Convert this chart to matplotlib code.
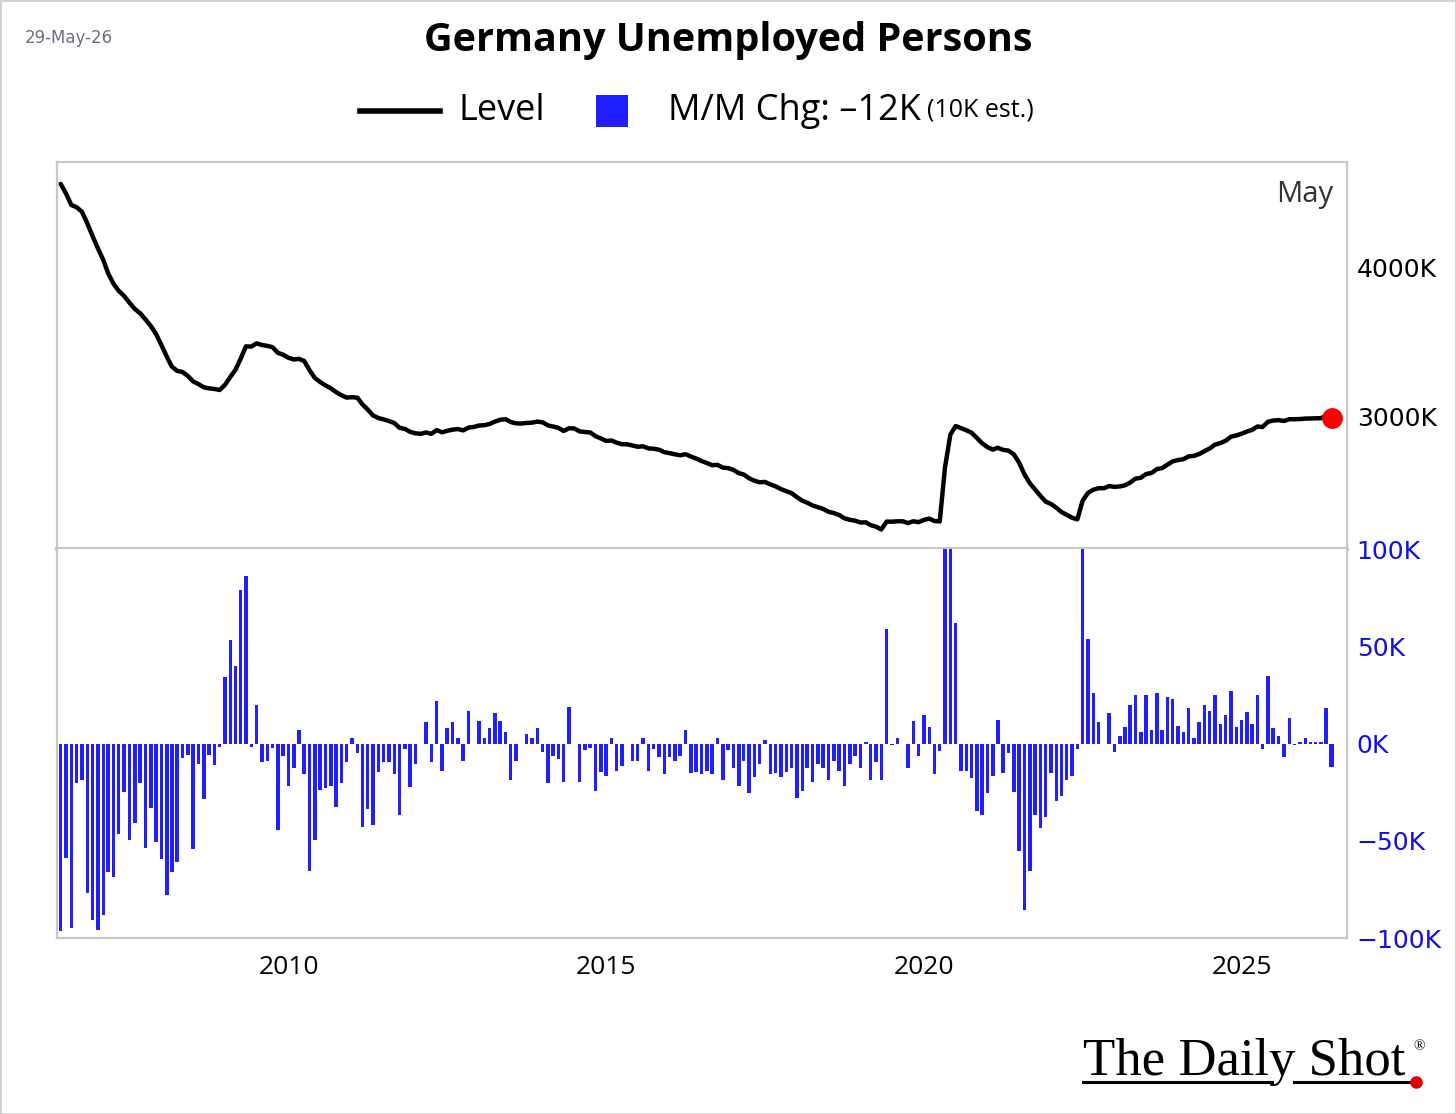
import matplotlib
matplotlib.use("Agg")
import matplotlib.pyplot as plt
from matplotlib import font_manager
from matplotlib.lines import Line2D
from matplotlib.patches import Rectangle
import pandas as pd

# Germany unemployed persons, monthly, May 2006 .. May 2026 (thousands)
first_month = "2006-05-01"

level = [
    4564, 4501, 4423, 4407, 4378, 4300, 4215, 4132, 4054, 3964, 3893, 3846,
    3812, 3767, 3725, 3696, 3655, 3611, 3557, 3483, 3405, 3338, 3309, 3302,
    3275, 3239, 3221, 3199, 3192, 3188, 3181, 3216, 3270, 3315, 3392, 3474,
    3472, 3494, 3483, 3477, 3468, 3430, 3418, 3397, 3386, 3390, 3376, 3315,
    3262, 3235, 3212, 3192, 3167, 3146, 3130, 3133, 3129, 3085, 3050, 3011,
    2993, 2984, 2973, 2959, 2927, 2920, 2900, 2890, 2887, 2896, 2887, 2912,
    2897, 2907, 2915, 2919, 2910, 2929, 2933, 2943, 2945, 2953, 2969, 2981,
    2985, 2966, 2957, 2956, 2960, 2962, 2969, 2964, 2943, 2936, 2927, 2906,
    2924, 2923, 2903, 2899, 2896, 2871, 2856, 2839, 2842, 2828, 2817, 2817,
    2808, 2800, 2803, 2789, 2787, 2780, 2764, 2757, 2749, 2743, 2750, 2735,
    2721, 2705, 2691, 2676, 2679, 2660, 2657, 2645, 2623, 2614, 2589, 2572,
    2562, 2564, 2548, 2534, 2516, 2502, 2489, 2462, 2438, 2425, 2406, 2395,
    2383, 2364, 2355, 2342, 2320, 2310, 2304, 2292, 2293, 2274, 2264, 2245,
    2298, 2297, 2300, 2300, 2288, 2300, 2294, 2309, 2318, 2302, 2299, 2659,
    2881, 2939, 2925, 2911, 2894, 2859, 2823, 2797, 2781, 2793, 2779, 2774,
    2749, 2694, 2615, 2555, 2513, 2470, 2432, 2416, 2390, 2363, 2343, 2324,
    2313, 2438, 2490, 2512, 2522, 2522, 2536, 2531, 2534, 2541, 2560, 2586,
    2592, 2617, 2624, 2650, 2657, 2680, 2702, 2711, 2717, 2735, 2739, 2751,
    2771, 2789, 2815, 2825, 2841, 2868, 2876, 2888, 2903, 2913, 2936, 2933,
    2968, 2976, 2979, 2973, 2985, 2985, 2986, 2989, 2990, 2991, 2992, 3008,
    2996,
]

mm_change = [
    -96.5, -59, -95, -20, -18.6, -76.7, -90.5, -95.7, -88.4, -65.9, -68.6, -46.6,
    -24.7, -49.7, -40.5, -20.3, -53.4, -32.8, -50.5, -59.5, -77.6, -65.9, -60.7, -7.4,
    -5.7, -54.3, -10.3, -28.4, -5.5, -10.7, -1.4, 34.5, 53.4, 40.2, 79.3, 86.5,
    -1.4, 20.1, -9.5, -8.6, -2, -44.5, -6.2, -21.7, -12.4, 7.2, -15.5, -65.5,
    -49.7, -23.6, -22.6, -21.5, -32.4, -20.3, -9.5, 3.1, -4.5, -42.6, -33.6, -41.7,
    -14.5, -9.5, -9.5, -15.5, -36.6, -2.4, -22.4, -10.3, 0, 11.2, -9.5, 22.3,
    -13.8, 8.2, 11.2, 3.1, -8.6, 17.2, 0, 12, 3, 8.2, 16, 12,
    6, -18.6, -8.6, 0, 5.2, 3, 8.2, -4.3, -20.3, -6.2, -7.7, -19.6,
    19.2, 0, -19.6, -2.9, -2, -24.1, -14.5, -16.7, 3, -13.8, -11.6, 0,
    -8.6, -8.6, 3, -13.8, -2.4, -6.9, -15.5, -6.9, -8.6, -6.4, 7.2, -14.7,
    -14.5, -15.5, -13.8, -15.5, 3, -18.6, -3.1, -12.4, -21.5, -8.6, -25.5, -17.2,
    -10.3, 2, -15.5, -14.7, -17.2, -14.5, -12.4, -27.6, -24.1, -12.4, -19.6, -10.3,
    -12.4, -18.6, -8.6, -13.8, -21.5, -10.3, -6, -12.4, 1, -18.6, -9.5, -18.6,
    59.3, -0.7, 3, 0, -12.4, 12, -6.2, 15.1, 8.9, -15.5, -3.4, 360,
    222, 62.2, -13.8, -13.8, -17.5, -34.7, -36.4, -25.5, -16.7, 12.4, -14.7, -4.8,
    -24.6, -55.3, -85.4, -65.6, -36.4, -43.3, -37.5, -14.7, -29.6, -26.6, -18.6, -16.7,
    -2.6, 130, 54.1, 26.1, 11.2, 0, 16, -4.3, 4, 8.9, 20, 25.3,
    6, 25.3, 7.4, 26.1, 7.4, 24, 23.2, 9.1, 6, 18.4, 3.1, 11.2,
    20.3, 17.2, 25.3, 10.3, 15.1, 27.1, 8.9, 12.4, 16.3, 10.3, 25.3, -2.6,
    35.2, 8.2, 4.3, -6.5, 13.4, -0.5, 1, 3.1, 1, 1, 1, 18.4,
    -12,
]

estimate = 10
as_of = "29-May-26"
last_label = "May"
title = "Germany Unemployed Persons"
level_ticks = [3000, 4000]
chg_ticks = [-100, -50, 0, 50, 100]
year_ticks = [2010, 2015, 2020, 2025]

W, H = 1456, 1114
installed = {f.name for f in font_manager.fontManager.ttflist}
narrow = "Liberation Sans Narrow" if "Liberation Sans Narrow" in installed else "Open Sans"

dates = pd.date_range(first_month, periods=len(level), freq="MS") + pd.offsets.MonthEnd(0)

fig = plt.figure(figsize=(W / 100, H / 100), dpi=100)
ax1 = fig.add_axes([57 / W, 1 - 549 / H, 1290 / W, 387 / H])
ax2 = fig.add_axes([57 / W, 1 - 938 / H, 1290 / W, 389 / H], sharex=ax1)

grey = "#c8c8c8"
blue = "#2020ff"

# level line
ax1.plot(dates, level, color="black", lw=3.2, solid_joinstyle="round", solid_capstyle="round")
ax1.plot(dates[-1:], level[-1:], "o", color="#ff0000", ms=14, zorder=5, clip_on=False)
ax1.set_ylim(2114, 4711)
ax1.set_yticks(level_ticks)
ax1.set_yticklabels([f"{v}K" for v in level_ticks])
ax1.text(0.989, 0.915, last_label, transform=ax1.transAxes, ha="right", va="center",
         fontsize=21, color="#333333", family=narrow)

# monthly change bars
widths = [20] * (len(mm_change) - 1) + [30]
ax2.bar(dates, mm_change, width=widths, color=blue, linewidth=0)
ax2.set_ylim(-100, 100.5)
ax2.set_yticks(chg_ticks)
ax2.set_yticklabels([f"{v}K".replace("-", "\u2212") for v in chg_ticks])

ax1.set_xlim(pd.Timestamp("2006-05-10"), pd.Timestamp("2026-08-28"))
ax2.set_xticks([pd.Timestamp(f"{y}-01-01") for y in year_ticks])
ax2.set_xticklabels([str(y) for y in year_ticks])

for ax in (ax1, ax2):
    ax.yaxis.tick_right()
    ax.tick_params(axis="y", length=0, pad=7, labelsize=18)
    for s in ax.spines.values():
        s.set_color(grey)
        s.set_linewidth(1.6)
ax1.spines["bottom"].set_linewidth(3)
ax2.spines["top"].set_visible(False)
ax1.tick_params(axis="x", length=0, labelbottom=False)
ax2.tick_params(axis="x", length=0, pad=12, labelsize=19)
for lab in ax2.get_xticklabels():
    lab.set_family("Open Sans")
for lab in ax1.get_yticklabels():
    lab.set_color("black")
for lab in ax2.get_yticklabels():
    lab.set_color("#1010e0")

# header
fig.text(728.5 / W, 1 - 40 / H, title, ha="center", va="center", fontsize=28.5,
         fontweight="bold", family=narrow)
fig.text(25 / W, 1 - 38 / H, as_of, ha="left", va="center", fontsize=12, color="#6b7080")

# legend
ly = 1 - 111 / H
fig.add_artist(Line2D([360 / W, 440 / W], [ly, ly], transform=fig.transFigure,
                      color="black", lw=4))
fig.text(458 / W, ly, "Level", ha="left", va="center", fontsize=26, family=narrow)
fig.add_artist(Rectangle((596 / W, 1 - 127 / H), 32 / W, 32 / H, transform=fig.transFigure,
                         color=blue, lw=0))
chg_txt = f"M/M Chg: {mm_change[-1]:.0f}K".replace("-", "\u2013")
t = fig.text(668 / W, ly, chg_txt, ha="left", va="center", fontsize=26, family=narrow)
fig.canvas.draw()
bb = t.get_window_extent(fig.canvas.get_renderer())
fig.text(bb.x1 / W + 6 / W, ly + 1 / H, f"({estimate}K est.)", ha="left", va="center",
         fontsize=18, family=narrow)

# logo
fig.text(1083 / W, 1 - 1075 / H, "The Daily Shot", ha="left", va="baseline",
         fontsize=38, family="Liberation Serif")
fig.text(1413 / W, 1 - 1050 / H, "\u00ae", ha="left", va="baseline", fontsize=11,
         family="Liberation Serif")
uy = 1 - 1082 / H
fig.add_artist(Line2D([1083 / W, 1272 / W], [uy, uy], transform=fig.transFigure,
                      color="black", lw=2.2))
fig.add_artist(Line2D([1294 / W, 1414 / W], [uy, uy], transform=fig.transFigure,
                      color="black", lw=2.2))
fig.add_artist(Line2D([1416 / W], [uy], transform=fig.transFigure, marker="o",
                      color="#e00000", ms=8, lw=0))

# outer border
fig.add_artist(Rectangle((0, 0), 1, 1, transform=fig.transFigure, fill=False,
                         edgecolor="#cfcfcf", lw=2))

fig.savefig("out.png", dpi=100, facecolor="white")
